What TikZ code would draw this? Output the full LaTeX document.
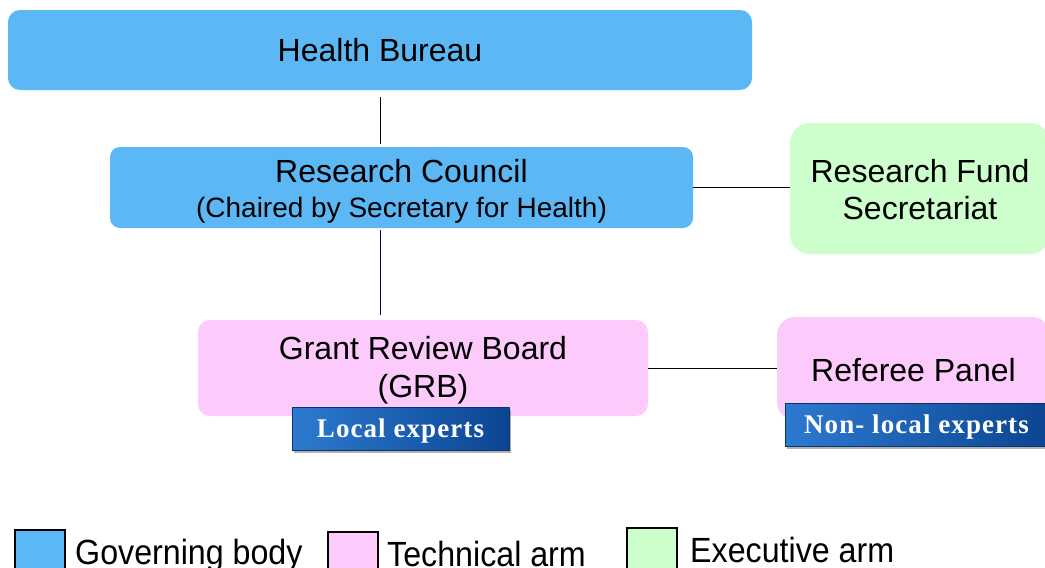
\documentclass[tikz,border=0pt]{standalone}
\usepackage{fontspec}
\setmainfont{Liberation Sans}
\newfontfamily\serifb{Liberation Serif}[LetterSpace=4]
\usetikzlibrary{shadows}
\definecolor{gov}{HTML}{5BB8F5}
\definecolor{tech}{HTML}{FCCBFC}
\definecolor{exe}{HTML}{CCFFCC}
\definecolor{expL}{HTML}{2C7AD0}
\definecolor{expR}{HTML}{0C4592}
\definecolor{expD}{HTML}{0A3470}
\begin{document}
\begin{tikzpicture}[x=1pt,y=-1pt,
  box/.style={inner sep=0pt, align=center, font=\fontsize{32}{38}\selectfont},
  govbox/.style={box, fill=gov},
  techbox/.style={box, fill=tech},
  exebox/.style={box, fill=exe},
  expertbox/.style={draw=expD, line width=0.8pt, left color=expL, right color=expR,
    text=white, font=\serifb\bfseries\fontsize{27}{30}\selectfont, minimum height=43, inner sep=0pt,
    drop shadow={shadow xshift=2pt, shadow yshift=-3pt, opacity=0.5, fill=black!60}},
  conn/.style={line width=0.9pt, black},
  legsq/.style={draw=black, line width=1.2pt, minimum width=50, minimum height=42, inner sep=0pt},
  legtxt/.style={anchor=base west, inner sep=0pt, font=\fontsize{35}{40}\selectfont}
]
\useasboundingbox[fill=white] (0,0) rectangle (1045,568);

\node[govbox, minimum width=744, minimum height=80, rounded corners=12] (HB) at (380,50) {Health Bureau};
\node[govbox, minimum width=583, minimum height=81, rounded corners=10] (RC) at (401.5,187.5)
  {\rule{0pt}{31pt}Research Council\\[-3pt]\fontsize{28}{32}\selectfont (Chaired by Secretary for Health)};
\node[exebox, minimum width=260, minimum height=131, rounded corners=20] (RF) at (920,188.5)
  {\rule{0pt}{25pt}Research Fund\\[-1pt]Secretariat};
\node[techbox, minimum width=450, minimum height=96, rounded corners=12] (GRB) at (423,368)
  {\rule{0pt}{28pt}Grant Review Board\\[0pt](GRB)};
\node[techbox, minimum width=273, minimum height=103, rounded corners=18] (REF) at (913.5,368.5)
  {\rule{0pt}{27pt}Referee Panel};
\node[expertbox, minimum width=217] (LE) at (400.5,428.5) {\rule{0pt}{24pt}Local experts};
\node[expertbox, minimum width=263] (NLE) at (916.5,424.5) {\rule{0pt}{24pt}Non- local experts};

\draw[conn, shorten <=7pt, shorten >=3pt] (HB.south) -- (HB.south |- RC.north);
\draw[conn, draw=black!70!blue, shorten <=2pt, shorten >=5pt] (RC.south -| HB.south) -- (GRB.north -| HB.south);
\draw[conn] (RC.east) -- (RC.east -| RF.west);
\draw[conn] (GRB.east) -- (GRB.east -| REF.west);

\node[legsq, fill=gov] (L1) at (40,551) {};
\node[legsq, fill=tech] (L2) at (353,553) {};
\node[legsq, fill=exe] (L3) at (652,549) {};
\node[legtxt] (T1) at (75,564) {\scalebox{0.92}[1]{Governing body}};
\node[legtxt] (T2) at (387,566) {\scalebox{0.92}[1]{Technical arm}};
\node[legtxt] (T3) at (690,562) {\scalebox{0.92}[1]{Executive arm}};
\end{tikzpicture}
\end{document}
